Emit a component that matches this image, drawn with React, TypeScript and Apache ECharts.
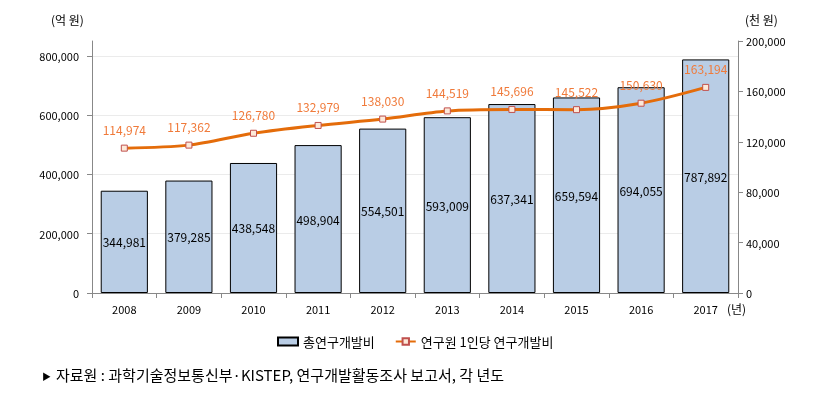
import React, { useEffect, useRef } from "react";
import * as echarts from "echarts";

const years = ["2008", "2009", "2010", "2011", "2012", "2013", "2014", "2015", "2016", "2017"];
const totalRnD = [344981, 379285, 438548, 498904, 554501, 593009, 637341, 659594, 694055, 787892];
const perResearcher = [114974, 117362, 126780, 132979, 138030, 144519, 145696, 145522, 150630, 163194];
const seriesNames = ["총연구개발비", "연구원 1인당 연구개발비"];
const leftUnit = "(억 원)";
const rightUnit = "(천 원)";
const xUnit = "(년)";
const sourceMark = "▶";
const sourceText = "자료원 : 과학기술정보통신부·KISTEP, 연구개발활동조사 보고서, 각 년도";

const FONT = "'Noto Sans CJK KR', 'Noto Sans', sans-serif";

export default function App() {
  const ref = useRef<HTMLDivElement>(null);
  useEffect(() => {
    if (!ref.current) return;
    const chart = echarts.init(ref.current, undefined, { renderer: "svg" });
    const fmt = (v: number) => v.toLocaleString("en-US");
    chart.setOption({
      animation: false,
      textStyle: { fontFamily: FONT },
      grid: { left: 92, right: 96, top: 41, bottom: 108 },
      legend: {
        left: 272,
        top: 330,
        itemGap: 20,
        itemWidth: 20,
        itemHeight: 8,
        textStyle: { fontSize: 13, color: "#000", fontFamily: FONT },
        data: [
          { name: seriesNames[0], icon: "rect" },
          { name: seriesNames[1] },
        ],
      },
      xAxis: {
        type: "category",
        data: years,
        axisLine: { lineStyle: { color: "#888" } },
        axisTick: { show: true, length: 5, lineStyle: { color: "#888" } },
        axisLabel: { color: "#000", fontSize: 11, margin: 10 },
      },
      yAxis: [
        {
          type: "value",
          min: 0,
          max: 850000,
          interval: 200000,
          axisLine: { show: true, lineStyle: { color: "#888" } },
          axisTick: { show: true, length: 5, lineStyle: { color: "#888" } },
          axisLabel: { color: "#000", fontSize: 11, margin: 13, showMaxLabel: false, formatter: fmt },
          splitLine: {
            show: true,
            lineStyle: { color: ["#ebebeb", "#ebebeb", "#ebebeb", "#ebebeb", "#ebebeb", "rgba(0,0,0,0)"] },
          },
        },
        {
          type: "value",
          min: 0,
          max: 200000,
          interval: 40000,
          axisLine: { show: true, lineStyle: { color: "#888" } },
          axisTick: { show: true, length: 5, lineStyle: { color: "#888" } },
          axisLabel: { color: "#000", fontSize: 11, margin: 8, formatter: fmt },
          splitLine: { show: false },
        },
      ],
      series: [
        {
          name: seriesNames[0],
          type: "bar",
          yAxisIndex: 0,
          data: totalRnD,
          barWidth: "73%",
          itemStyle: { color: "#B9CDE5", borderColor: "#000", borderWidth: 1 },
          label: {
            show: true,
            position: "inside",
            color: "#000",
            fontSize: 12,
            formatter: (p: any) => fmt(p.value),
          },
        },
        {
          name: seriesNames[1],
          type: "line",
          yAxisIndex: 1,
          data: perResearcher,
          smooth: 0.3,
          symbol: "rect",
          symbolSize: 6,
          lineStyle: { color: "#E46C0A", width: 3 },
          itemStyle: { color: "#FDE9D9", borderColor: "#C0504D", borderWidth: 1 },
          label: {
            show: true,
            position: "top",
            distance: 9,
            color: "#F07A3A",
            fontSize: 12,
            formatter: (p: any) => fmt(p.value),
          },
          z: 5,
        },
      ],
      graphic: [
        { type: "text", left: 51, top: 13, style: { text: leftUnit, fontSize: 12, fill: "#000", fontFamily: FONT } },
        { type: "text", left: 745, top: 13, style: { text: rightUnit, fontSize: 12, fill: "#000", fontFamily: FONT } },
        { type: "text", left: 727, top: 302, style: { text: xUnit, fontSize: 12, fill: "#000", fontFamily: FONT } },
        { type: "text", left: 42, top: 372, style: { text: sourceMark, fontSize: 9, fill: "#000", fontFamily: FONT } },
        { type: "text", left: 56, top: 367, style: { text: sourceText, fontSize: 15, fill: "#000", fontFamily: FONT } },
      ],
    });
    return () => chart.dispose();
  }, []);
  return <div ref={ref} style={{ position: "fixed", left: 0, top: 0, width: 834, height: 401 }} />;
}
